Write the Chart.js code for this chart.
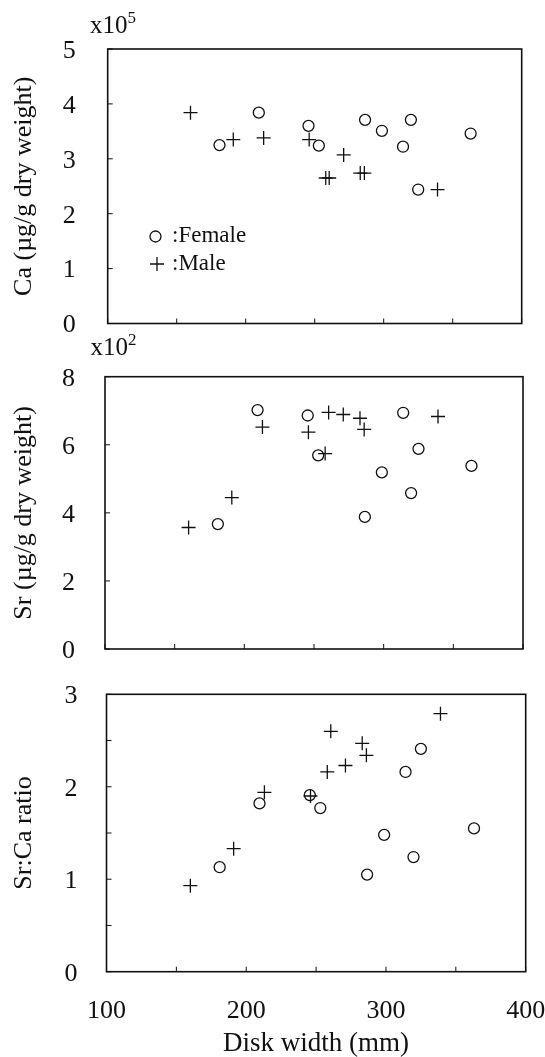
<!DOCTYPE html>
<html>
<head>
<meta charset="utf-8">
<script src="https://cdn.jsdelivr.net/npm/chart.js@4.4.1/dist/chart.umd.min.js"></script>
<style>
  html, body { margin: 0; padding: 0; background: #fff; }
  #wrap { position: relative; width: 545px; height: 1057px; overflow: hidden; }
  canvas { position: absolute; left: 0; }
</style>
</head>
<body>
<div id="wrap">
  <canvas id="caChart" width="545" height="345" style="top:0px"></canvas>
  <canvas id="srChart" width="545" height="345" style="top:325px"></canvas>
  <canvas id="ratioChart" width="545" height="387" style="top:670px"></canvas>
</div>
<script>
// === Data ===
const femaleWidth = [181, 209.5, 245.5, 253, 286.5, 298.7, 314, 319.7, 325, 363];
const femaleCa    = [3.25, 3.84, 3.60, 3.24, 3.71, 3.51, 3.22, 3.71, 2.44, 3.46];   // x10^5
const femaleSr    = [3.67, 7.02, 6.86, 5.69, 3.88, 5.19, 6.94, 4.58, 5.88, 5.38];   // x10^2
const femaleRatio = [1.13, 1.82, 1.91, 1.77, 1.05, 1.48, 2.16, 1.24, 2.41, 1.55];

const maleWidth = [160, 191, 213, 246, 258, 260.5, 271, 283, 286, 339];
const maleCa    = [3.84, 3.35, 3.38, 3.35, 2.65, 2.65, 3.07, 2.74, 2.74, 2.44];
const maleSr    = [3.57, 4.45, 6.52, 6.37, 5.74, 6.95, 6.89, 6.78, 6.45, 6.83];
const maleRatio = [0.93, 1.33, 1.94, 1.90, 2.16, 2.60, 2.23, 2.47, 2.34, 2.79];

const xTicks = { min: 100, max: 400, step: 50 };
const legendLabels = [":Female", ":Male"];

const SERIF = "'Liberation Serif', 'Times New Roman', serif";
const INK = "#111";
Chart.defaults.font.family = SERIF;
Chart.defaults.color = INK;

function toPoints(xs, ys) {
  return xs.map((x, i) => ({ x: x, y: ys[i] }));
}

// scales add label padding to the layout, which shrinks the plot area
function noScalePadding(axis) {
  axis.paddingTop = 0;
  axis.paddingBottom = 0;
  axis.paddingLeft = 0;
  axis.paddingRight = 0;
}

// box around plot area + inward tick marks
const boxPlugin = {
  id: "box",
  beforeDatasetsDraw(chart) {
    const { ctx, chartArea: a, scales: { x, y } } = chart;
    ctx.save();
    ctx.strokeStyle = INK;
    ctx.lineWidth = 1.6;
    ctx.strokeRect(a.left, a.top, a.right - a.left, a.bottom - a.top);
    ctx.lineWidth = 1;
    ctx.beginPath();
    x.ticks.forEach((t, i) => {
      const px = x.getPixelForTick(i);
      ctx.moveTo(px, a.bottom);
      ctx.lineTo(px, a.bottom - 5);
    });
    y.ticks.forEach((t, i) => {
      const py = y.getPixelForTick(i);
      ctx.moveTo(a.left, py);
      ctx.lineTo(a.left + 5, py);
    });
    ctx.stroke();
    ctx.restore();
  }
};

// "x10^n" multiplier above the y axis
function exponentPlugin(power, x, baseline) {
  return {
    id: "exponent",
    afterDraw(chart) {
      const ctx = chart.ctx;
      ctx.save();
      ctx.fillStyle = INK;
      ctx.textBaseline = "alphabetic";
      ctx.font = "25px " + SERIF;
      ctx.fillText("x10", x, baseline);
      const w = ctx.measureText("x10").width;
      ctx.font = "17px " + SERIF;
      ctx.fillText(String(power), x + w, baseline - 10);
      ctx.restore();
    }
  };
}

// legend drawn inside the first panel
const legendPlugin = {
  id: "sexLegend",
  afterDraw(chart) {
    const ctx = chart.ctx;
    ctx.save();
    ctx.strokeStyle = INK;
    ctx.lineWidth = 1.3;
    ctx.beginPath();
    ctx.arc(155.5, 236.5, 5.5, 0, Math.PI * 2);
    ctx.stroke();
    ctx.beginPath();
    ctx.moveTo(150, 264); ctx.lineTo(164, 264);
    ctx.moveTo(157, 257); ctx.lineTo(157, 271);
    ctx.stroke();
    ctx.fillStyle = INK;
    ctx.font = "23px " + SERIF;
    ctx.textBaseline = "middle";
    ctx.fillText(legendLabels[0], 172, 236);
    ctx.fillText(legendLabels[1], 172, 264);
    ctx.restore();
  }
};

function makePanel(id, p) {
  const canvas = document.getElementById(id);
  return new Chart(canvas, {
    type: "scatter",
    data: {
      datasets: [
        {
          label: "Female",
          data: toPoints(femaleWidth, p.female),
          pointStyle: "circle",
          pointRadius: 5.5,
          pointHoverRadius: 5.5,
          pointBorderWidth: 1.3,
          pointBackgroundColor: "rgba(0,0,0,0)",
          pointBorderColor: INK
        },
        {
          label: "Male",
          data: toPoints(maleWidth, p.male),
          pointStyle: "cross",
          pointRadius: 7,
          pointHoverRadius: 7,
          pointBorderWidth: 1.3,
          pointBorderColor: INK
        }
      ]
    },
    options: {
      responsive: false,
      animation: false,
      events: [],
      layout: {
        autoPadding: false,
        padding: { top: p.areaTop, right: 545 - p.areaRight, bottom: 0, left: 0 }
      },
      plugins: { legend: { display: false }, tooltip: { enabled: false } },
      scales: {
        x: {
          type: "linear",
          min: xTicks.min,
          max: xTicks.max,
          grid: { display: false },
          border: { display: false },
          ticks: {
            display: p.xLabels,
            stepSize: xTicks.step,
            padding: 18,
            font: { size: 26, lineHeight: 1 },
            callback: v => (v % 100 === 0 ? v : "")
          },
          title: {
            display: p.xLabels,
            text: "Disk width (mm)",
            font: { size: 27, lineHeight: 1 },
            padding: { top: 0, bottom: 0 }
          },
          afterFit: axis => {
            axis.height = p.canvasHeight - p.areaBottom;
            noScalePadding(axis);
          }
        },
        y: {
          type: "linear",
          min: p.yMin,
          max: p.yMax,
          grid: { display: false },
          border: { display: false },
          ticks: {
            stepSize: p.yStep,
            padding: p.yPad,
            labelOffset: 2,
            font: { size: 26, lineHeight: 1 },
            callback: v => (Number.isInteger(v) ? v : "")
          },
          title: {
            display: true,
            text: p.yTitle,
            font: { size: 26, lineHeight: 1 },
            padding: { top: 11, bottom: 0 }
          },
          afterFit: axis => {
            axis.width = p.areaLeft;
            noScalePadding(axis);
          }
        }
      }
    },
    plugins: p.plugins
  });
}

makePanel("caChart", {
  female: femaleCa, male: maleCa,
  yMin: 0, yMax: 5, yStep: 1, yPad: 24,
  yTitle: "Ca (\u00b5g/g dry weight)",
  xLabels: false,
  canvasHeight: 345, areaTop: 49, areaBottom: 323.5, areaLeft: 107.7, areaRight: 521.7,
  plugins: [boxPlugin, exponentPlugin(5, 90, 33), legendPlugin]
});

makePanel("srChart", {
  female: femaleSr, male: maleSr,
  yMin: 0, yMax: 8, yStep: 2, yPad: 22,
  yTitle: "Sr (\u00b5g/g dry weight)",
  xLabels: false,
  canvasHeight: 345, areaTop: 51.7, areaBottom: 324, areaLeft: 105, areaRight: 523,
  plugins: [boxPlugin, exponentPlugin(2, 90.5, 30)]
});

makePanel("ratioChart", {
  female: femaleRatio, male: maleRatio,
  yMin: 0, yMax: 3, yStep: 0.5, yPad: 21,
  yTitle: "Sr:Ca ratio",
  xLabels: true,
  canvasHeight: 387, areaTop: 24.3, areaBottom: 301.7, areaLeft: 106.5, areaRight: 525.7,
  plugins: [boxPlugin]
});
</script>
</body>
</html>
